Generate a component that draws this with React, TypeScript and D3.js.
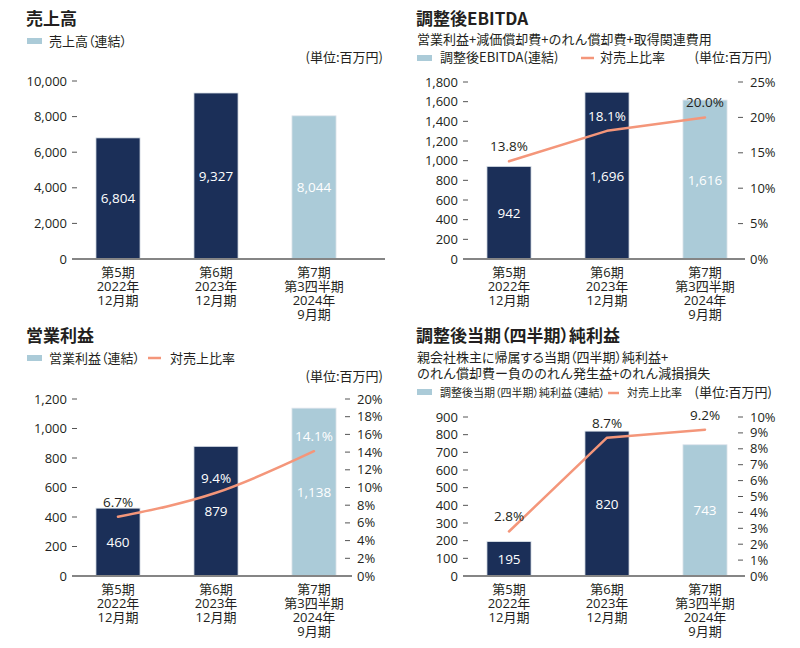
import React from "react";
import * as d3 from "d3";

const categories: string[][] = [
  ["第5期", "2022年", "12月期"],
  ["第6期", "2023年", "12月期"],
  ["第7期", "第3四半期", "2024年", "9月期"],
];
const periodKinds = ["full", "full", "interim"];

const salesValues = [6804, 9327, 8044];
const salesTicks = [0, 2000, 4000, 6000, 8000, 10000];

const ebitdaValues = [942, 1696, 1616];
const ebitdaRatio = [13.8, 18.1, 20.0];
const ebitdaTicks = [0, 200, 400, 600, 800, 1000, 1200, 1400, 1600, 1800];
const ebitdaRatioTicks = [0, 5, 10, 15, 20, 25];

const opValues = [460, 879, 1138];
const opRatio = [6.7, 9.4, 14.1];
const opTicks = [0, 200, 400, 600, 800, 1000, 1200];
const opRatioTicks = [0, 2, 4, 6, 8, 10, 12, 14, 16, 18, 20];

const netValues = [195, 820, 743];
const netRatio = [2.8, 8.7, 9.2];
const netTicks = [0, 100, 200, 300, 400, 500, 600, 700, 800, 900];
const netRatioTicks = [0, 1, 2, 3, 4, 5, 6, 7, 8, 9, 10];

const NAVY = "#1b2f58";
const LIGHT = "#abcbd8";
const SALMON = "#f4967a";
const TEXT = "#231f20";
const FONT = "'Open Sans', 'Noto Sans CJK JP', sans-serif";
const CJK = "'Noto Sans CJK JP', 'Open Sans', sans-serif";

const fmt = d3.format(",");

type PanelProps = {
  left: number;
  axisLeft: number;
  axisRight: number;
  yTop: number;
  yBottom: number;
  values: number[];
  ticks: number[];
  ratio?: number[];
  ratioTicks?: number[];
  smooth?: boolean;
};

function Panel(p: PanelProps) {
  const x = d3
    .scaleBand<number>()
    .domain(categories.map((_, i) => i))
    .range([p.left, p.left + 294])
    .paddingInner(0.55)
    .paddingOuter(0.275);
  const maxV = p.ticks[p.ticks.length - 1];
  const y = d3.scaleLinear().domain([0, maxV]).range([p.yBottom, p.yTop]);
  const yr = p.ratioTicks
    ? d3
        .scaleLinear()
        .domain([0, p.ratioTicks[p.ratioTicks.length - 1]])
        .range([p.yBottom, p.yTop])
    : null;
  const bw = x.bandwidth();
  const cx = (i: number) => (x(i) as number) + bw / 2;

  const line =
    p.ratio && yr
      ? d3
          .line<number>()
          .x((_, i) => cx(i))
          .y((d) => yr(d))
          .curve(p.smooth ? d3.curveMonotoneX : d3.curveLinear)(p.ratio)
      : null;

  return (
    <g>
      {p.ticks.map((t) => (
        <g key={"t" + t}>
          <line
            x1={p.axisLeft}
            x2={p.axisLeft + 5}
            y1={y(t)}
            y2={y(t)}
            stroke="#555"
            strokeWidth={1}
          />
          <text
            x={p.axisLeft - 5}
            y={y(t) + 4.5}
            textAnchor="end"
            fontSize={13}
            fill={TEXT}
            fontFamily={FONT}
          >
            {fmt(t)}
          </text>
        </g>
      ))}
      {yr &&
        p.ratioTicks!.map((t) => (
          <g key={"r" + t}>
            {t !== 0 && (
              <line
                x1={p.axisRight - 7}
                x2={p.axisRight - 2}
                y1={yr(t)}
                y2={yr(t)}
                stroke="#555"
                strokeWidth={1}
              />
            )}
            <text
              x={p.axisRight + 5}
              y={yr(t) + 4.5}
              textAnchor="start"
              fontSize={13}
              fill={TEXT}
              fontFamily={FONT}
            >
              {t + "%"}
            </text>
          </g>
        ))}
      {p.values.map((v, i) => (
        <rect
          key={"b" + i}
          x={x(i)}
          y={y(v)}
          width={bw}
          height={y(0) - y(v)}
          fill={periodKinds[i] === "full" ? NAVY : LIGHT}
          stroke="#dfe5ec"
          strokeWidth={0.8}
        />
      ))}
      <line
        x1={p.axisLeft}
        x2={p.axisRight}
        y1={y(0)}
        y2={y(0)}
        stroke="#858585"
        strokeWidth={2}
      />
      {p.values.map((v, i) => (
        <text
          key={"v" + i}
          x={cx(i)}
          y={(y(v) + y(0)) / 2 + 5}
          textAnchor="middle"
          fontSize={13.5}
          fill="#ffffff"
          fontFamily={FONT}
        >
          {fmt(v)}
        </text>
      ))}
      {line && (
        <path
          d={line}
          fill="none"
          stroke={SALMON}
          strokeWidth={2.5}
          strokeLinejoin="round"
          strokeLinecap="round"
        />
      )}
      {p.ratio &&
        yr &&
        p.ratio.map((r, i) => {
          const ly = yr(r) - 15;
          const inside = ly > y(p.values[i]) + 8;
          return (
            <text
              key={"p" + i}
              x={cx(i)}
              y={ly + 5}
              textAnchor="middle"
              fontSize={13.5}
              fill={inside ? "#ffffff" : TEXT}
              fontFamily={FONT}
            >
              {r.toFixed(1) + "%"}
            </text>
          );
        })}
      {categories.map((lines, i) =>
        lines.map((l, j) => (
          <text
            key={"c" + i + "-" + j}
            x={cx(i)}
            y={y(0) + 18 + j * 14}
            textAnchor="middle"
            fontSize={13}
            fill={TEXT}
            fontFamily={FONT}
          >
            {l}
          </text>
        ))
      )}
    </g>
  );
}

function BarSwatch({ x, y }: { x: number; y: number }) {
  return <rect x={x} y={y} width={15} height={6} fill={LIGHT} />;
}
function LineSwatch({ x, y, w = 13 }: { x: number; y: number; w?: number }) {
  return (
    <line x1={x} x2={x + w} y1={y} y2={y} stroke={SALMON} strokeWidth={2.5} />
  );
}

function T({
  x,
  y,
  size = 13,
  bold = false,
  anchor = "start",
  palt = false,
  children,
}: {
  x: number;
  y: number;
  size?: number;
  bold?: boolean;
  anchor?: string;
  palt?: boolean;
  children: React.ReactNode;
}) {
  return (
    <text
      x={x}
      y={y}
      fontSize={size}
      fontWeight={bold ? 700 : 400}
      textAnchor={anchor as any}
      fill={TEXT}
      fontFamily={CJK}
      style={palt ? { fontFeatureSettings: '"palt"' } : undefined}
    >
      {children}
    </text>
  );
}

export default function App() {
  return (
    <svg
      width={800}
      height={648}
      style={{ position: "absolute", left: 0, top: 0, background: "#fff" }}
    >
      {/* Panel 1 */}
      <T x={26} y={25} size={17} bold>
        売上高
      </T>
      <BarSwatch x={27} y={38} />
      <T x={49} y={46} palt>
        売上高（連結）
      </T>
      <T x={383} y={62} anchor="end">
        (単位:百万円)
      </T>
      <Panel
        left={69}
        axisLeft={72}
        axisRight={385}
        yTop={81}
        yBottom={259}
        values={salesValues}
        ticks={salesTicks}
      />

      {/* Panel 2 */}
      <T x={416} y={25} size={17} bold>
        調整後EBITDA
      </T>
      <T x={417} y={44}>
        営業利益+減価償却費+のれん償却費+取得関連費用
      </T>
      <BarSwatch x={417} y={55} />
      <T x={440} y={62}>
        調整後EBITDA(連結)
      </T>
      <LineSwatch x={581} y={58} />
      <T x={600} y={62}>
        対売上比率
      </T>
      <T x={772} y={62} anchor="end">
        (単位:百万円)
      </T>
      <Panel
        left={460}
        axisLeft={463}
        axisRight={745}
        yTop={82}
        yBottom={259}
        values={ebitdaValues}
        ticks={ebitdaTicks}
        ratio={ebitdaRatio}
        ratioTicks={ebitdaRatioTicks}
      />

      {/* Panel 3 */}
      <T x={26} y={342} size={17} bold>
        営業利益
      </T>
      <BarSwatch x={27} y={355} />
      <T x={49} y={363} palt>
        営業利益（連結）
      </T>
      <LineSwatch x={148} y={358} />
      <T x={170} y={363}>
        対売上比率
      </T>
      <T x={383} y={381} anchor="end">
        (単位:百万円)
      </T>
      <Panel
        left={69}
        axisLeft={72}
        axisRight={352}
        yTop={399}
        yBottom={576}
        values={opValues}
        ticks={opTicks}
        ratio={opRatio}
        ratioTicks={opRatioTicks}
        smooth
      />

      {/* Panel 4 */}
      <T x={416} y={342} size={17} bold palt>
        調整後当期（四半期）純利益
      </T>
      <T x={417} y={362} palt>
        親会社株主に帰属する当期（四半期）純利益+
      </T>
      <T x={417} y={378}>
        のれん償却費ー負ののれん発生益+のれん減損損失
      </T>
      <BarSwatch x={417} y={389} />
      <T x={440} y={397} size={11} palt>
        調整後当期（四半期）純利益（連結）
      </T>
      <LineSwatch x={608} y={393} w={11} />
      <T x={627} y={397} size={11}>
        対売上比率
      </T>
      <T x={772} y={397} anchor="end">
        (単位:百万円)
      </T>
      <Panel
        left={460}
        axisLeft={463}
        axisRight={745}
        yTop={417}
        yBottom={576}
        values={netValues}
        ticks={netTicks}
        ratio={netRatio}
        ratioTicks={netRatioTicks}
      />
    </svg>
  );
}
